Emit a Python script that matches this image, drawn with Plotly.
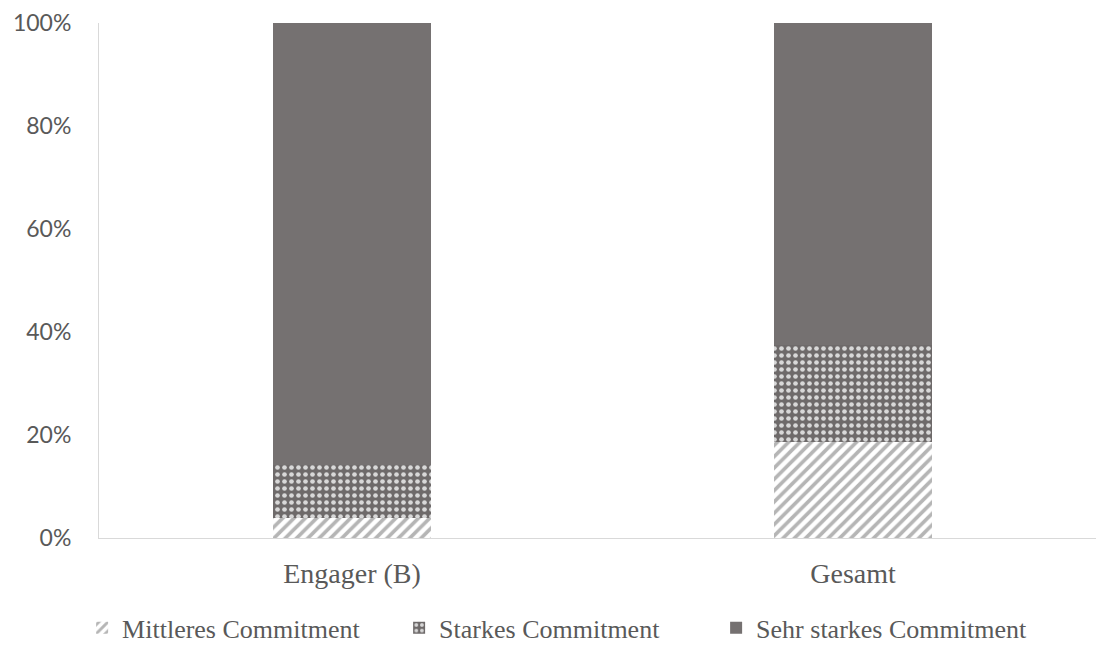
import plotly.graph_objects as go

categories = ["Engager (B)", "Gesamt"]
series_names = ["Mittleres Commitment", "Starkes Commitment", "Sehr starkes Commitment"]
mittleres = [3.8, 18.7]
starkes = [10.3, 18.7]
sehr_starkes = [85.9, 62.6]
y_ticks = [0, 20, 40, 60, 80, 100]
y_tick_labels = ["0%", "20%", "40%", "60%", "80%", "100%"]

fig = go.Figure()
fig.add_trace(go.Bar(
    x=categories, y=mittleres, name=series_names[0],
    marker=dict(color="#ffffff", line=dict(width=0),
                pattern=dict(shape="/", bgcolor="#ffffff", fgcolor="#b5b5b5",
                             size=8, solidity=0.45, fillmode="replace")),
))
fig.add_trace(go.Bar(
    x=categories, y=starkes, name=series_names[1],
    marker=dict(color="#6e6a6a", line=dict(width=0),
                pattern=dict(shape=".", bgcolor="#6e6a6a", fgcolor="#d8d8d8",
                             size=7, solidity=0.35, fillmode="replace")),
))
fig.add_trace(go.Bar(
    x=categories, y=sehr_starkes, name=series_names[2],
    marker=dict(color="#757171", line=dict(width=0)),
))

fig.update_layout(
    barmode="stack",
    bargap=0.685,
    width=1096, height=646,
    margin=dict(l=99, r=0, t=23, b=108),
    plot_bgcolor="#ffffff", paper_bgcolor="#ffffff",
    showlegend=True,
    legend=dict(orientation="h", x=0.46, xanchor="center",
                yref="container", y=0.028, yanchor="middle",
                font=dict(family="Liberation Serif", size=26, color="#595959"),
                itemwidth=30, entrywidth=272, traceorder="normal"),
    xaxis=dict(type="category", range=[-0.505, 1.485], showline=True,
               linecolor="#d9d9d9", linewidth=1, showgrid=False, ticks="",
               tickfont=dict(family="Liberation Serif", size=28, color="#595959"),
               ticklabelstandoff=10),
    yaxis=dict(range=[0, 100], tickvals=y_ticks, ticktext=y_tick_labels,
               showline=True, linecolor="#d9d9d9", linewidth=1, showgrid=False,
               zeroline=False, ticks="",
               tickfont=dict(family="Lato", size=23, color="#595959"),
               ticklabelstandoff=22),
)

fig.write_html("out.html")
